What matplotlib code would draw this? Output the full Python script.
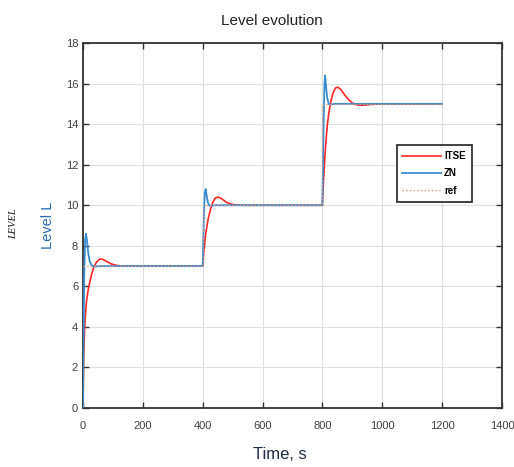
import matplotlib
matplotlib.use("Agg")
import matplotlib.pyplot as plt

# values
t_itse = [0, 2, 5, 8, 12, 18, 24, 30, 36, 45, 57, 68, 80, 95, 110, 125, 150, 400,
          403, 410, 418, 426, 434, 442, 450, 458, 468, 480, 495, 515, 540, 800,
          804, 810, 816, 822, 828, 836, 844, 852, 862, 874, 888, 902, 918, 935,
          960, 1000, 1200]
y_itse = [0, 2.3, 3.8, 4.6, 5.3, 5.9, 6.3, 6.65, 6.95, 7.2, 7.35, 7.32, 7.22, 7.1, 7.04, 7.01, 7.0, 7.0,
          7.6, 8.6, 9.3, 9.8, 10.15, 10.35, 10.4, 10.37, 10.27, 10.14, 10.05, 10.01, 10.0, 10.0,
          11.3, 12.8, 13.9, 14.6, 15.1, 15.55, 15.78, 15.82, 15.7, 15.45, 15.2, 15.02, 14.94, 14.93,
          14.97, 15.0, 15.0]

t_zn = [0, 2, 4, 7, 10, 13, 17, 22, 28, 36, 50, 70, 400,
        402, 404, 407, 410, 413, 417, 422, 430, 445, 800,
        802, 804, 807, 809, 812, 816, 821, 828, 840, 1200]
y_zn = [0, 3.5, 6.5, 8.3, 8.6, 8.3, 7.7, 7.25, 7.05, 6.98, 6.99, 7.0, 7.0,
        8.2, 9.5, 10.6, 10.8, 10.5, 10.15, 9.98, 9.98, 10.0, 10.0,
        11.8, 14.0, 16.0, 16.4, 15.9, 15.3, 15.0, 14.97, 15.0, 15.0]

t_ref = [0, 400, 400, 800, 800, 1200]
y_ref = [7, 7, 10, 10, 15, 15]

fig = plt.figure(figsize=(5.14, 4.67), dpi=100)
ax = fig.add_axes([0.1615, 0.1263, 0.815, 0.7816])

ax.plot(t_itse, y_itse, color="#ff2626", lw=1.2, label="ITSE", zorder=3)
ax.plot(t_zn, y_zn, color="#3a8dd0", lw=1.3, label="ZN", zorder=4)
ax.plot(t_ref, y_ref, color="#e89a78", lw=1.0, ls=":", label="ref", zorder=5)

ax.set_xlim(0, 1400)
ax.set_ylim(0, 18)
ax.set_xticks(range(0, 1401, 200))
ax.set_yticks(range(0, 19, 2))
ax.grid(True, color="#dedede", lw=0.8)
ax.set_axisbelow(True)
ax.tick_params(direction="in", top=True, right=True, length=4, width=1,
               colors="#333333", labelsize=8, labelcolor="#404040")
ax.tick_params(axis="x", pad=9)
for lab in ax.get_xticklabels() + ax.get_yticklabels():
    lab.set_family("Liberation Sans")
for sp in ax.spines.values():
    sp.set_color("#333333")
    sp.set_linewidth(1.3)

ax.set_title("Level evolution", family="Liberation Sans", fontsize=11,
             color="#222222", pad=13, x=0.451)
ax.set_xlabel("Time, s", family="Liberation Sans", fontsize=12,
              color="#1c2c44", labelpad=12)
ax.xaxis.set_label_coords(0.47, -0.108)
ax.set_ylabel("Level L", family="Liberation Sans", fontsize=10.5,
              color="#2c6bb0", labelpad=8)
fig.text(0.026, 0.52, "LEVEL", rotation=90, family="Liberation Serif",
         style="italic", fontsize=7.5, ha="center", va="center", color="#111111")

leg = ax.legend(loc="upper left", bbox_to_anchor=(0.737, 0.733),
                handlelength=4.0, handletextpad=0.3, labelspacing=0.75,
                borderpad=0.6, fancybox=False, framealpha=1,
                prop={"family": "Liberation Sans", "size": 7, "weight": "bold"})
leg.get_frame().set_edgecolor("#333333")
leg.get_frame().set_linewidth(1.3)

fig.savefig("out.png", dpi=100)
